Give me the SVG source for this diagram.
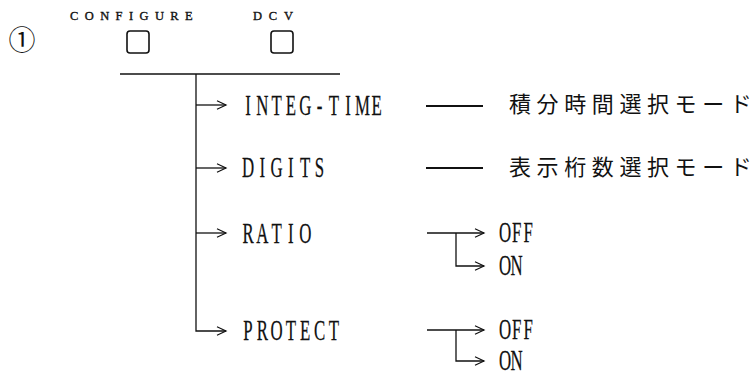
<svg xmlns="http://www.w3.org/2000/svg" width="756" height="376" viewBox="0 0 756 376">
<defs>
<style>
.ln{stroke:#111;stroke-width:1.3;fill:none}
.thick{stroke:#111;stroke-width:2.2;fill:none}
.lbl{font-family:"Liberation Serif",serif;font-size:29px;fill:#111;stroke:#111;stroke-width:0.25;text-anchor:middle}
.hdr{font-family:"Liberation Serif",serif;font-size:12.5px;fill:#111;stroke:#111;stroke-width:0.35}
.jp{font-family:"Noto Sans CJK JP",sans-serif;font-size:22px;letter-spacing:5.6px;fill:#111}
.box{fill:#fff;stroke:#111;stroke-width:1.6}
.num{font-family:"Noto Sans CJK JP",sans-serif;font-size:27px;fill:#111}
</style>
<marker id="ah" markerUnits="userSpaceOnUse" markerWidth="12" markerHeight="10" refX="10" refY="5" orient="auto" viewBox="0 0 12 10">
<path d="M1,0.8 L10,5 L1,9.2" fill="none" stroke="#111" stroke-width="1.2"/>
</marker>
</defs>
<rect width="756" height="376" fill="#fff"/>

<g id="step-number">
<text class="num" x="22" y="38" text-anchor="middle" dominant-baseline="central">①</text>
</g>

<g id="key-configure">
<text class="hdr" x="70" y="20" letter-spacing="6.4">CONFIGURE</text>
<rect class="box" x="127" y="31" width="22" height="22" rx="3"/>
</g>
<g id="key-dcv">
<text class="hdr" x="253" y="20" letter-spacing="6.8">DCV</text>
<rect class="box" x="271" y="31" width="22" height="22" rx="3"/>
</g>

<g id="connectors">
<path class="ln" d="M120,74 H340"/>
<path class="ln" d="M196,74 V331 H226" marker-end="url(#ah)"/>
<path class="ln" d="M196,105 H226" marker-end="url(#ah)"/>
<path class="ln" d="M196,168 H226" marker-end="url(#ah)"/>
<path class="ln" d="M196,233 H226" marker-end="url(#ah)"/>
<path class="thick" d="M426,106 H483"/>
<path class="thick" d="M426,168 H483"/>
<path class="ln" d="M427,233 H484" marker-end="url(#ah)"/>
<path class="ln" d="M456,233 V266 H484" marker-end="url(#ah)"/>
<path class="ln" d="M427,330 H484" marker-end="url(#ah)"/>
<path class="ln" d="M456,330 V361 H484" marker-end="url(#ah)"/>
</g>

<g id="integ-time">
<text class="lbl" transform="translate(248,115) scale(0.58,1)" x="0 24.66 49.32 73.98 98.64 123.3 147.96 172.62 197.28 221.94">INTEG-TIME</text>
</g>
<g id="integ-time-mode">
<text class="jp" x="509" y="112">積分時間選択モード</text>
</g>
<g id="digits">
<text class="lbl" transform="translate(248,177) scale(0.58,1)" x="0 24.66 49.32 73.98 98.64 123.3">DIGITS</text>
</g>
<g id="digits-mode">
<text class="jp" x="509" y="175">表示桁数選択モード</text>
</g>
<g id="ratio">
<text class="lbl" transform="translate(248,243) scale(0.58,1)" x="0 24.66 49.32 73.98 98.64">RATIO</text>
</g>
<g id="ratio-off">
<text class="lbl" transform="translate(505,242) scale(0.58,1)" x="0 20 40">OFF</text>
</g>
<g id="ratio-on">
<text class="lbl" transform="translate(505,275) scale(0.58,1)" x="0 20">ON</text>
</g>
<g id="protect">
<text class="lbl" transform="translate(248,340) scale(0.58,1)" x="0 24.66 49.32 73.98 98.64 123.3 147.96">PROTECT</text>
</g>
<g id="protect-off">
<text class="lbl" transform="translate(505,339) scale(0.58,1)" x="0 20 40">OFF</text>
</g>
<g id="protect-on">
<text class="lbl" transform="translate(505,370) scale(0.58,1)" x="0 20">ON</text>
</g>
</svg>
